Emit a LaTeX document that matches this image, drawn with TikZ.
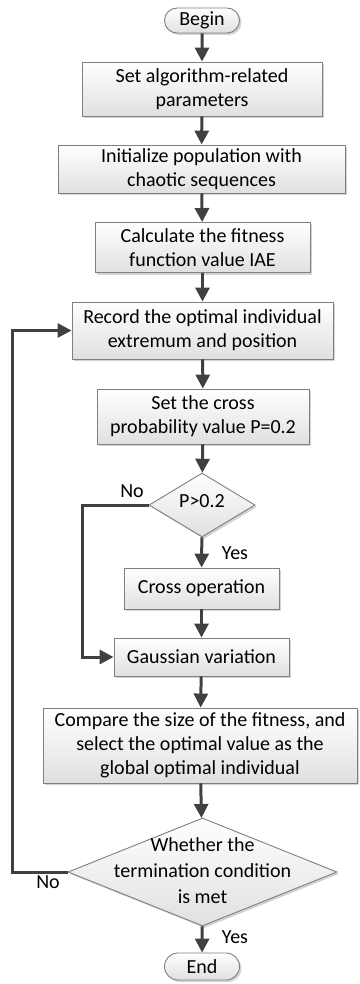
\documentclass[tikz,border=0pt]{standalone}
\usepackage{fontspec}
\setmainfont{Carlito}
\usetikzlibrary{arrows.meta,shapes.geometric,shapes.misc,shadows,positioning}
\definecolor{lnc}{HTML}{404040}
\definecolor{bdc}{HTML}{7F7F7F}
\definecolor{fillbot}{HTML}{E0E0E0}
\tikzset{
  box/.style={draw=bdc, line width=0.9pt, top color=white, bottom color=fillbot,
    drop shadow={opacity=0.35, shadow xshift=2pt, shadow yshift=-2pt},
    align=center, inner sep=0pt, font=\fontsize{20}{24}\selectfont},
  term/.style={box, rounded rectangle},
  dec/.style={box, diamond, aspect=1.6},
  flow/.style={draw=lnc, line width=3pt, -{Triangle[width=14pt,length=14pt]}},
  lbl/.style={font=\fontsize{20}{24}\selectfont, inner sep=0pt}
}
\newcommand{\ztext}[2]{\raisebox{#1}{\makebox[0pt]{\smash{\begin{tabular}{@{}c@{}}#2\end{tabular}}}}}
\begin{document}
\begin{tikzpicture}[x=1pt,y=-1pt]
\useasboundingbox (0,0) rectangle (359,984);
\node[term, minimum width=75, minimum height=25] (begin) at (202,20.5) {Begin};
\node[box, minimum width=240, minimum height=54] (b1) at (202,89) {Set algorithm-related\\parameters};
\node[box, minimum width=287, minimum height=48] (b2) at (201.5,169) {Initialize population with\\chaotic sequences};
\node[box, minimum width=215, minimum height=50] (b3) at (202.5,247.5) {Calculate the fitness\\function value IAE};
\node[box, minimum width=261, minimum height=57] (b4) at (202.5,330.5) {Record the optimal individual\\extremum and position};
\node[box, minimum width=212, minimum height=55] (b5) at (203,416.5) {Set the cross\\probability value P=0.2};
\node[dec, minimum width=106, minimum height=64] (d1) at (202,505) {\ztext{-6pt}{P>0.2}};
\node[box, minimum width=155, minimum height=41] (cross) at (201.5,588.5) {Cross operation};
\node[box, minimum width=175, minimum height=38] (gauss) at (201.5,657) {Gaussian variation};
\node[box, minimum width=314, minimum height=75] (cmp) at (200,745.5) {Compare the size of the fitness, and\\select the optimal value as the\\global optimal individual};
\node[dec, minimum width=269, minimum height=108] (d2) at (202.5,872) {\fontsize{20}{26}\selectfont\ztext{-10pt}{Whether the\\termination condition\\is met}};
\node[term, minimum width=75, minimum height=27] (end) at (202,966.5) {End};

\coordinate (c1) at (82,505);
\coordinate (c2) at (82,657);
\coordinate (c3) at (12,872);
\coordinate (c4) at (12,330.5);

\draw[flow] (begin) -- (b1);
\draw[flow] (b1) -- (b2);
\draw[flow] (b2) -- (b3);
\draw[flow] (b3) -- (b4);
\draw[flow] (b4) -- (b5);
\draw[flow] (b5) -- (d1);
\draw[flow] (d1) -- (cross);
\draw[flow] (cross) -- (gauss);
\draw[flow] (gauss) -- (cmp);
\draw[flow] (cmp) -- (d2);
\draw[flow] (d2) -- (end);
\draw[flow] (d1.west) -- (c1) -- (c2) -- (gauss.west);
\draw[flow] (d2.west) -- (c3) -- (c4) -- (b4.west);

\node[lbl] (no1) at (132,491) {No};
\node[lbl] (yes1) at (235,553) {Yes};
\node[lbl] (no2) at (48,882) {No};
\node[lbl] (yes2) at (235,937) {Yes};
\end{tikzpicture}
\end{document}
